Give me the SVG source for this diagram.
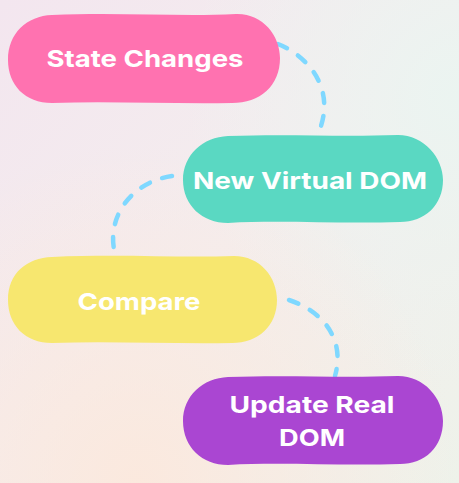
<svg xmlns="http://www.w3.org/2000/svg" width="459" height="483" viewBox="0 0 459 483">
  <defs>
    <linearGradient id="bg" x1="0" y1="0" x2="1" y2="1">
      <stop offset="0" stop-color="#F3E6EF"/>
      <stop offset="0.5" stop-color="#F4EDEE"/>
      <stop offset="1" stop-color="#EEF2EA"/>
    </linearGradient>
    <radialGradient id="peach" cx="0.3" cy="1" r="0.7">
      <stop offset="0" stop-color="#FCE8DC" stop-opacity="0.9"/>
      <stop offset="1" stop-color="#FCE8DC" stop-opacity="0"/>
    </radialGradient>
    <radialGradient id="mint" cx="1" cy="0.2" r="0.6">
      <stop offset="0" stop-color="#EAF5F1" stop-opacity="0.9"/>
      <stop offset="1" stop-color="#EAF5F1" stop-opacity="0"/>
    </radialGradient>
  </defs>
  <style>
    .lbl { font-family: Inter, "Open Sans", "DejaVu Sans", sans-serif; font-weight: 700; font-size: 23.5px; fill: #FFFFFF; text-anchor: middle; }
    .conn { fill: none; stroke: #7FD8FF; stroke-width: 4.5; stroke-linecap: round; stroke-dasharray: 10 13; }
  </style>
  <rect width="459" height="483" fill="url(#bg)"/>
  <rect width="459" height="483" fill="url(#mint)"/>
  <rect width="459" height="483" fill="url(#peach)"/>

  <g id="connectors">
    <path class="conn" d="M278,44 C306,55 338,88 318,134"/>
    <path class="conn" d="M172,176 C130,182 104,220 116,257"/>
    <path class="conn" d="M289,300 C320,310 346,337 335,376"/>
  </g>

  <g id="node-state-changes">
    <path fill="#FF72B0" d="M52,15 C120,12 180,17 236,14 C262,13 280,35 280,58 C280,86 260,103 232,103 C170,104 110,101 52,103 C25,103 8,85 8,60 C8,33 27,16 52,15 Z"/>
    <text class="lbl" x="145" y="67" textLength="197" lengthAdjust="spacingAndGlyphs">State Changes</text>
  </g>

  <g id="node-new-virtual-dom">
    <path fill="#5AD8C2" d="M228,136 C290,134 340,137 398,135 C424,135 443,158 443,180 C443,205 425,222 400,222 C340,224 280,220 228,223 C202,223 183,205 183,180 C183,155 203,137 228,136 Z"/>
    <text class="lbl" x="310" y="189" textLength="234" lengthAdjust="spacingAndGlyphs">New Virtual DOM</text>
  </g>

  <g id="node-compare">
    <path fill="#F7E76F" d="M52,257 C120,254 180,258 234,256 C260,256 277,277 277,300 C277,326 258,343 232,343 C170,344 110,341 52,343 C25,343 8,325 8,300 C8,273 27,258 52,257 Z"/>
    <text class="lbl" x="139" y="310" textLength="123" lengthAdjust="spacingAndGlyphs">Compare</text>
  </g>

  <g id="node-update-real-dom">
    <path fill="#AA46D2" d="M228,377 C290,375 340,378 398,376 C424,376 443,398 443,421 C443,447 425,464 400,464 C340,466 280,462 228,465 C202,465 183,447 183,421 C183,396 203,378 228,377 Z"/>
    <text class="lbl" x="312" y="413" textLength="165" lengthAdjust="spacingAndGlyphs">Update Real</text>
    <text class="lbl" x="312" y="446" textLength="66" lengthAdjust="spacingAndGlyphs">DOM</text>
  </g>
</svg>
